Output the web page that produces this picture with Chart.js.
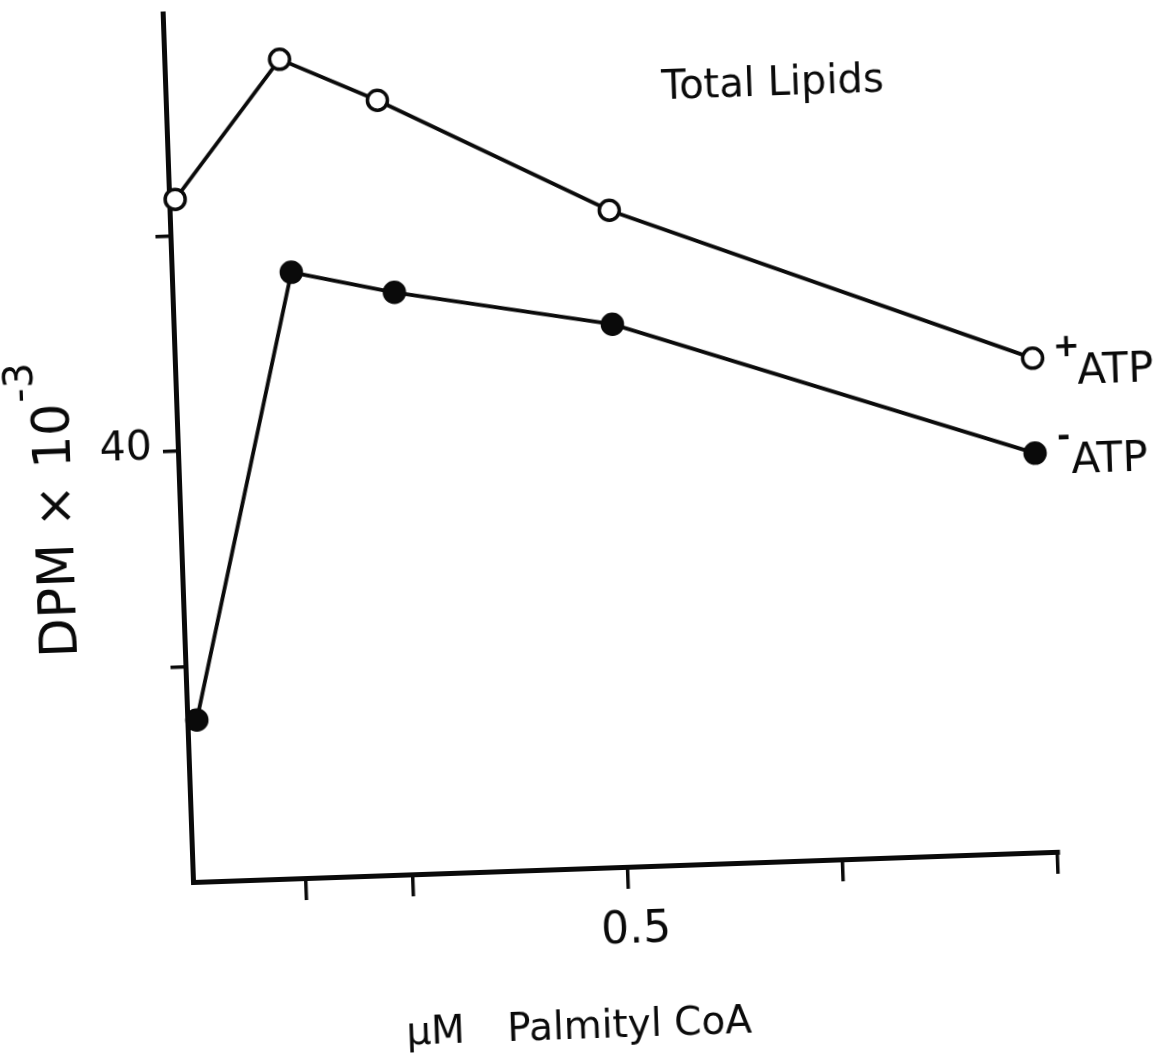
<!DOCTYPE html>
<html>
<head>
<meta charset="utf-8">
<title>Total Lipids</title>
<script src="https://cdn.jsdelivr.net/npm/chart.js@4.4.1/dist/chart.umd.min.js"></script>
<style>
  html, body { margin: 0; padding: 0; background: #fff; overflow: hidden; width: 1164px; height: 1059px; }
  /* the hand-drawn plot sits slightly tilted on the sheet */
  #sheet { position: absolute; left: 0; top: 0; width: 1200px; height: 1120px;
           transform-origin: 193px 882px; transform: rotate(-2deg); }
  canvas { display: block; }
</style>
</head>
<body>
<div id="sheet"><canvas id="chart" width="1200" height="1120"></canvas></div>
<script>
// µM palmityl CoA vs. DPM × 10^-3, total lipids
const concPlusATP  = [0.001, 0.128, 0.240, 0.505, 0.991];
const dpmPlusATP   = [51.70, 58.03, 55.97, 50.49, 42.94];
const concMinusATP = [0.005, 0.133, 0.252, 0.504, 0.990];
const dpmMinusATP  = [27.51, 48.13, 47.03, 45.20, 38.53];

const xTickValues = [0.125, 0.25, 0.5, 0.75, 1.0];
const xTickLabels = { 0.5: '0.5' };
const yTickValues = [30, 40, 50];
const yTickLabels = { 40: '40' };

const seriesNames = ['ATP', 'ATP'];
const seriesSigns = ['+', '-'];

const INK = '#0a0a0a';
const FONT = '"DejaVu Sans", "Liberation Sans", sans-serif';

const toPoints = (xs, ys) => xs.map((x, i) => ({ x, y: ys[i] }));

// hand lettering: heading, axis titles and series names
const lettering = {
  id: 'lettering',
  afterDraw(chart) {
    const ctx = chart.ctx;
    ctx.save();
    ctx.fillStyle = INK;
    ctx.textAlign = 'left';
    ctx.textBaseline = 'alphabetic';

    ctx.font = `40px ${FONT}`;
    ctx.fillText('Total Lipids', 689, 116);

    ctx.font = `39px ${FONT}`;
    ctx.fillText('µM', 401, 1052);
    ctx.fillText('Palmityl CoA', 502, 1052);

    ctx.save();
    ctx.translate(85, 653);
    ctx.rotate(-Math.PI / 2);
    ctx.font = `51px ${FONT}`;
    const main = 'DPM × 10';
    ctx.fillText(main, 0, 0);
    const w = ctx.measureText(main).width;
    ctx.font = `40px ${FONT}`;
    ctx.fillText('-3', w + 2, -35);
    ctx.restore();

    const offsets = [
      { sx: 34, sy: -9, tx: 44, ty: 27 },
      { sx: 29, sy: -14, tx: 36, ty: 21 }
    ];
    chart.data.datasets.forEach((ds, i) => {
      const pts = chart.getDatasetMeta(i).data;
      const last = pts[pts.length - 1];
      const o = offsets[i];
      ctx.font = `bold 32px ${FONT}`;
      ctx.textAlign = 'center';
      ctx.textBaseline = 'middle';
      ctx.fillText(seriesSigns[i], last.x + o.sx, last.y + o.sy);
      ctx.font = `42px ${FONT}`;
      ctx.textAlign = 'left';
      ctx.textBaseline = 'alphabetic';
      ctx.fillText(seriesNames[i], last.x + o.tx, last.y + o.ty);
    });
    ctx.restore();
  }
};

const CANVAS_W = 1200, CANVAS_H = 1120;
const AREA = { left: 193, top: 13, right: 1059, bottom: 882 };

new Chart(document.getElementById('chart'), {
  type: 'line',
  data: {
    datasets: [
      {
        label: '+ATP',
        data: toPoints(concPlusATP, dpmPlusATP),
        borderColor: INK,
        borderWidth: 3.8,
        pointRadius: 10,
        pointBorderWidth: 3.5,
        pointBackgroundColor: '#fff',
        pointBorderColor: INK,
        tension: 0,
        clip: false
      },
      {
        label: '-ATP',
        data: toPoints(concMinusATP, dpmMinusATP),
        borderColor: INK,
        borderWidth: 3.8,
        pointRadius: 11,
        pointBorderWidth: 1.5,
        pointBackgroundColor: INK,
        pointBorderColor: INK,
        tension: 0,
        clip: false
      }
    ]
  },
  options: {
    responsive: false,
    animation: false,
    devicePixelRatio: 1,
    layout: { padding: { left: 0, top: AREA.top, right: CANVAS_W - AREA.right, bottom: 0 } },
    plugins: { legend: { display: false }, tooltip: { enabled: false } },
    scales: {
      x: {
        type: 'linear',
        min: -0.006,
        max: 1.001,
        afterFit(scale) {
          scale.height = CANVAS_H - AREA.bottom;
          scale.paddingLeft = 0; scale.paddingRight = 0;
        },
        afterBuildTicks(scale) { scale.ticks = xTickValues.map(v => ({ value: v })); },
        grid: { drawOnChartArea: false, drawTicks: true, tickLength: 22, color: INK, lineWidth: 3.5 },
        border: { display: true, color: INK, width: 5 },
        ticks: {
          autoSkip: false,
          maxRotation: 0,
          padding: 16,
          labelOffset: 6,
          color: INK,
          font: { family: FONT, size: 44 },
          callback: v => xTickLabels[v] || ''
        }
      },
      y: {
        type: 'linear',
        min: 20,
        max: 60.32,
        afterFit(scale) {
          scale.width = AREA.left;
          scale.paddingTop = 0; scale.paddingBottom = 0;
        },
        afterBuildTicks(scale) { scale.ticks = yTickValues.map(v => ({ value: v })); },
        grid: { drawOnChartArea: false, drawTicks: true, tickLength: 15, color: INK, lineWidth: 3.5 },
        border: { display: true, color: INK, width: 5 },
        ticks: {
          autoSkip: false,
          padding: 11,
          labelOffset: -4,
          color: INK,
          font: { family: FONT, size: 41 },
          callback: v => yTickLabels[v] || ''
        }
      }
    }
  },
  plugins: [lettering]
});
</script>
</body>
</html>
